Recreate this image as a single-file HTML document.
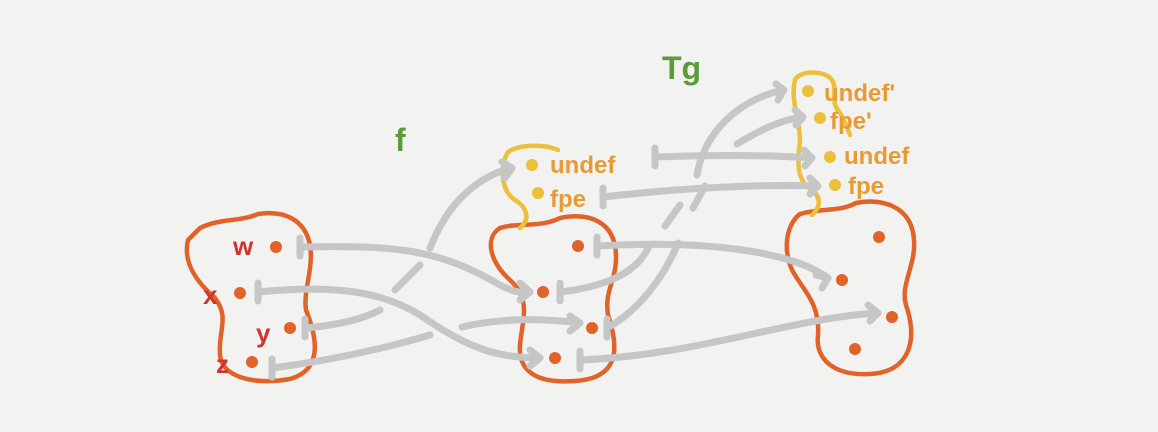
<!DOCTYPE html>
<html><head><meta charset="utf-8"><style>
html,body{margin:0;padding:0;background:#f2f2f1;}
svg{display:block}
text{font-family:"Liberation Sans",sans-serif;font-weight:bold}
</style></head><body>
<svg width="1158" height="432" viewBox="0 0 1158 432">
<rect width="1158" height="432" fill="#f2f2f1"/>
<g fill="none" stroke-linecap="round" stroke-linejoin="round">
 <path stroke="#e0632a" stroke-width="4.5" d="M200,228 C220,218 240,222 258,214 C285,210 305,220 310,245 C314,268 303,290 306,310 C318,340 322,370 290,379 C255,385 222,378 220,355 C218,330 230,318 215,298 C200,285 182,265 188,240 Z"/>
 <path stroke="#e0632a" stroke-width="4.5" d="M500,228 C520,222 540,228 560,218 C590,212 615,222 616,255 C617,280 604,290 608,315 C618,345 622,378 575,381 C535,384 518,370 520,345 C522,320 532,300 510,280 C490,262 484,238 500,228 Z"/>
 <path stroke="#e0632a" stroke-width="4.5" d="M800,214 C820,208 840,212 856,203 C880,198 912,205 914,240 C916,265 900,285 906,305 C918,340 910,372 870,374 C835,376 815,360 818,335 C820,305 805,292 795,275 C782,255 785,225 800,214 Z"/>
 <path stroke="#ecc03a" stroke-width="4.5" d="M508,152 C520,144 545,144 558,150 M508,152 C500,165 500,190 515,200 C528,208 530,220 520,228"/>
 <path stroke="#ecc03a" stroke-width="4.5" d="M795,80 C800,70 825,70 832,80 C838,90 830,100 838,110 C845,120 848,130 850,135 M795,80 C790,100 800,120 800,140 C798,160 795,180 812,190 C822,198 820,208 812,215"/>
 <g stroke="#c6c6c6" stroke-width="7">
  <path d="M300,247 C400,245 440,250 500,285 C515,293 525,293 530,292 M520,283 L530,292 L520,300 M300,238 L300,256"/>
  <path d="M258,292 C330,285 380,290 420,315 C470,350 500,358 540,358 M530,350 L540,358 L530,366 M258,283 L258,301"/>
  <path d="M305,328 C340,325 365,318 380,310 M395,290 L420,265 M430,248 C445,210 470,180 510,168 M502,162 L512,168 L505,178 M305,319 L305,337"/>
  <path d="M272,368 C320,362 380,350 430,335 M462,327 C500,318 540,318 580,323 M570,316 L580,323 L570,331 M272,359 L272,377"/>
  <path d="M655,157 C710,155 770,155 812,158 M804,150 L812,158 L805,166 M655,148 L655,166"/>
  <path d="M603,197 C680,188 760,184 818,186 M810,178 L818,186 L810,194 M603,188 L603,206"/>
  <path d="M597,246 C700,240 790,250 828,278 M816,275 L828,278 L822,288 M597,237 L597,255"/>
  <path d="M560,292 C620,285 640,265 648,248 M665,226 L680,205 M697,175 C705,130 740,100 783,90 M776,84 L784,90 L778,100 M560,283 L560,301"/>
  <path d="M607,328 C640,310 665,275 678,243 M693,208 L705,186 M737,144 C760,130 780,120 803,117 M795,110 L803,117 L796,125 M607,319 L607,337"/>
  <path d="M580,360 C700,355 790,318 878,313 M868,305 L878,313 L870,321 M580,351 L580,369"/>
 </g>
</g>
<g fill="#e0632a">
 <circle cx="276" cy="247" r="6"/><circle cx="240" cy="293" r="6"/><circle cx="290" cy="328" r="6"/><circle cx="252" cy="362" r="6"/>
 <circle cx="578" cy="246" r="6"/><circle cx="543" cy="292" r="6"/><circle cx="592" cy="328" r="6"/><circle cx="555" cy="358" r="6"/>
 <circle cx="879" cy="237" r="6"/><circle cx="842" cy="280" r="6"/><circle cx="892" cy="317" r="6"/><circle cx="855" cy="349" r="6"/>
</g>
<g fill="#ecc03a">
 <circle cx="532" cy="165" r="6"/><circle cx="538" cy="193" r="6"/>
 <circle cx="808" cy="91" r="6"/><circle cx="820" cy="118" r="6"/><circle cx="830" cy="157" r="6"/><circle cx="835" cy="185" r="6"/>
</g>
<g fill="#d0342a" font-size="26">
 <text x="233" y="255">w</text>
 <text x="203" y="304">x</text>
 <text x="256" y="342">y</text>
 <text x="216" y="373">z</text>
</g>
<g fill="#e89a35" font-size="24">
 <text x="550" y="173">undef</text>
 <text x="550" y="207">fpe</text>
 <text x="824" y="101">undef'</text>
 <text x="830" y="129">fpe'</text>
 <text x="844" y="164">undef</text>
 <text x="848" y="194">fpe</text>
</g>
<g fill="#5c9a3a" font-size="32">
 <text x="395" y="151">f</text>
 <text x="662" y="79">Tg</text>
</g>
</svg>
</body></html>
